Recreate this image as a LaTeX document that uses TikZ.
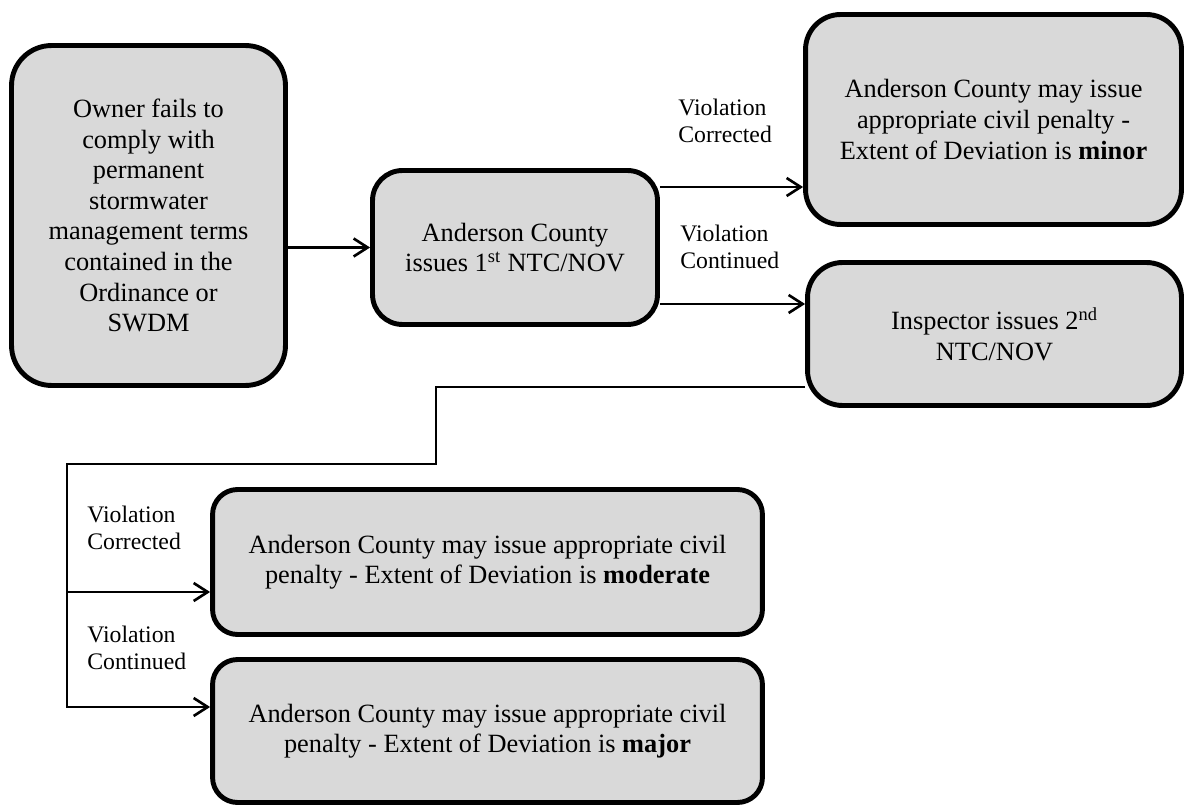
\documentclass[tikz,border=0pt]{standalone}
\usepackage{fontspec}
\setmainfont{Liberation Serif}
\usetikzlibrary{arrows.meta}
\definecolor{boxgray}{RGB}{217,217,217}
\begin{document}
\begin{tikzpicture}[x=0.02cm,y=-0.02cm,
    box/.style={draw,line width=2.8pt,fill=boxgray,rounded corners=0.6cm,align=center,
      inner sep=0pt,font=\fontsize{15}{17.4}\selectfont},
    lbl/.style={align=left,anchor=west,inner sep=0pt,font=\fontsize{13.5}{15.4}\selectfont},
    arr/.style={line width=1.5pt,-{Straight Barb[length=0.28cm,width=0.36cm,line width=1.5pt]}}]
  \useasboundingbox (0,0) rectangle (1187,807);
  \draw
    (148.5,215.5) node[box,rounded corners=0.8cm,minimum width=5.48cm,minimum height=6.8cm] (owner)
      {Owner fails to\\comply with\\permanent\\stormwater\\management terms\\contained in the\\Ordinance or\\SWDM}
    (515,247.5) node[box,minimum width=5.7cm,minimum height=3.08cm] (first)
      {Anderson County\\issues 1\textsuperscript{st} NTC/NOV}
    (993.5,119.5) node[box,rounded corners=0.7cm,minimum width=7.52cm,minimum height=4.2cm] (minor)
      {Anderson County may issue\\appropriate civil penalty -\\Extent of Deviation is \textbf{minor}}
    (994.5,334) node[box,rounded corners=0.7cm,minimum width=7.48cm,minimum height=2.86cm] (second)
      {Inspector issues 2\textsuperscript{nd}\\NTC/NOV}
    (487.5,562) node[box,rounded corners=0.5cm,minimum width=11cm,minimum height=2.9cm] (moderate)
      {Anderson County may issue appropriate civil\\penalty - Extent of Deviation is \textbf{moderate}}
    (487.5,731) node[box,rounded corners=0.5cm,minimum width=11cm,minimum height=2.86cm] (major)
      {Anderson County may issue appropriate civil\\penalty - Extent of Deviation is \textbf{major}};
  \draw
    (678,121) node[lbl] (corr1){Violation\\Corrected}
    (680,247) node[lbl] (cont1){Violation\\Continued}
    (87,528) node[lbl] (corr2){Violation\\Corrected}
    (87,648) node[lbl] (cont2){Violation\\Continued};
  \coordinate (bend) at (436,464);
  \coordinate (foot) at (67,707);
  \coordinate (fork) at (67,592);
  \begin{scope}[arr]
    \draw (owner.east |- first.west) to (first.west);
    \draw ([yshift=1.21cm]first.east) to ([yshift=1.21cm]first.east -| minor.west);
    \draw ([yshift=-1.13cm]first.east) to ([yshift=-1.13cm]first.east -| second.west);
    \draw ([yshift=-1.06cm]second.west) -| (bend) -| (foot) -- (foot -| major.west);
    \draw (fork) to (fork -| moderate.west);
  \end{scope}
\end{tikzpicture}
\end{document}
